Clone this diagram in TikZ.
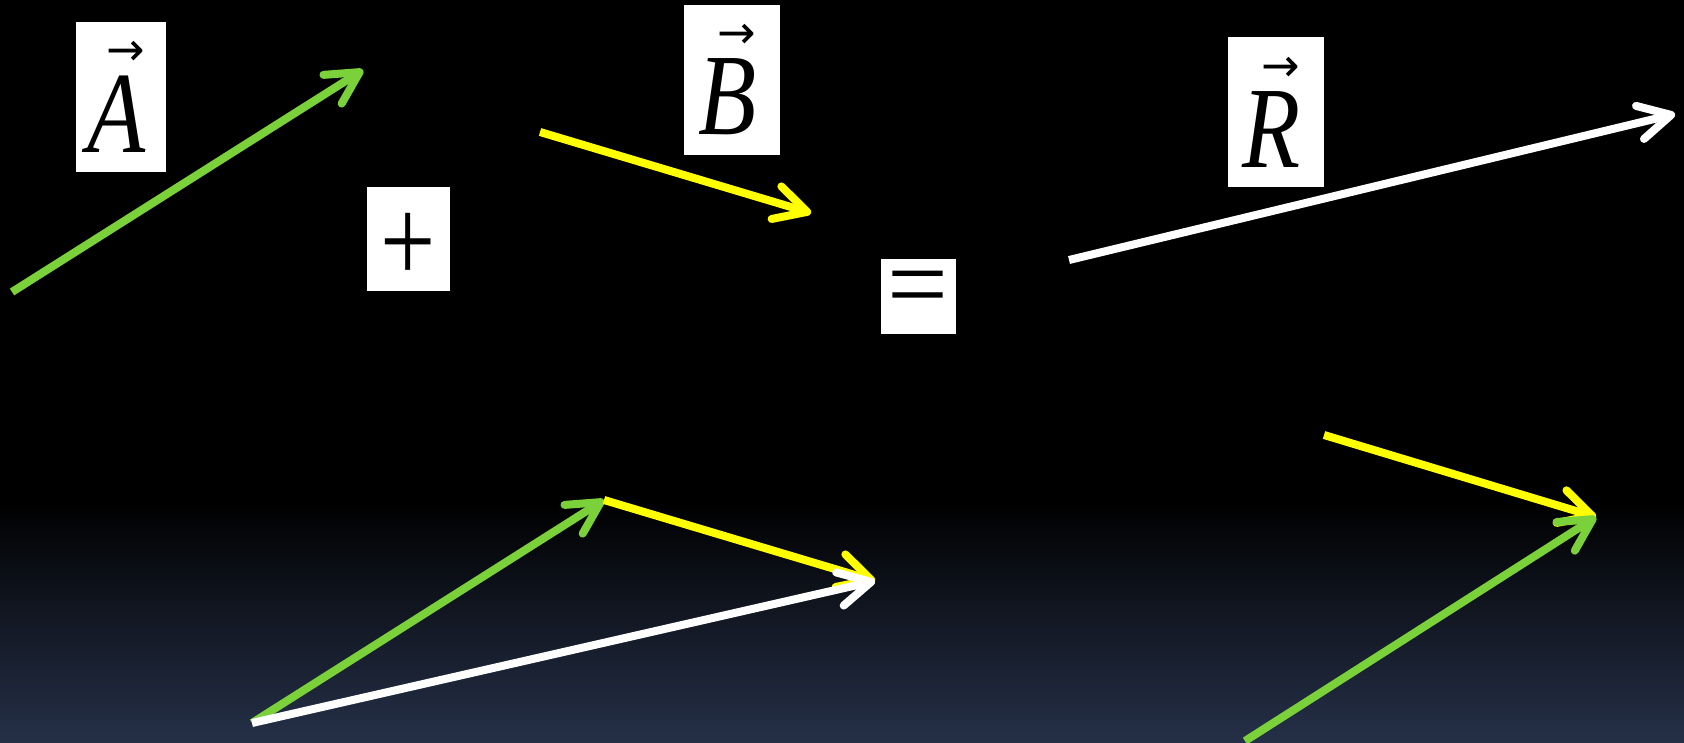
\documentclass[tikz,border=0pt]{standalone}
\usepackage{fontspec}
\usepackage{graphicx}
\setmainfont{Liberation Serif}
\newfontfamily\arrfont{DejaVu Sans}
\newfontfamily\letfont[FakeStretch=0.82]{Liberation Serif}
\usetikzlibrary{arrows.meta}
\definecolor{vgreen}{HTML}{7AD13A}
\definecolor{vyellow}{HTML}{FFFF00}
\definecolor{bgblue}{HTML}{253048}
\newcommand{\veclabel}[1]{\hspace*{4.5pt}{\arrfont\fontsize{23}{23}\selectfont →}\\[4pt]{\letfont\fontsize{58}{58}\selectfont\itshape #1}\hspace*{4pt}}

\begin{document}
\begin{tikzpicture}[x=0.5pt,y=-0.5pt,every node/.style={inner sep=0pt},
  symbox/.style={fill=white,text=black},
  vec/.style={line width=4pt,-{Straight Barb[round,length=16pt,width=17pt]}}]
\useasboundingbox (0,0) rectangle (1684,743);
\fill[black] (0,0) rectangle (1684,743);
\shade[top color=black,bottom color=bgblue] (0,500) rectangle (1684,743);
% labels
\node[symbox,align=center,minimum width=45pt,minimum height=75pt] (labA) at (121,97) {\veclabel{A}};
\node[symbox,align=center,minimum width=48pt,minimum height=75pt] (labB) at (732,80) {\veclabel{B}};
\node[symbox,align=center,minimum width=48pt,minimum height=75pt] (labR) at (1276,112) {\veclabel{R}};
\node[symbox,minimum width=41.5pt,minimum height=51.5pt,font=\fontsize{49}{49}\selectfont] (plus) at (408,239) {\raisebox{-4.3pt}[\height][0pt]{\scalebox{1}[1.25]{+}}};
\node[symbox,minimum width=37.5pt,minimum height=37.5pt,font=\fontsize{54}{54}\selectfont] (equals) at (918,296) {=};
% top row
\coordinate (a0) at (12,292);
\coordinate (a1) at (363,70);
\coordinate (b0) at (540,132);
\coordinate (b1) at (811,213);
\coordinate (r0) at (1069,260);
\coordinate (r1) at (1675,114);
\draw[vec,vgreen] (a0) -- (a1);
\draw[vec,vyellow] (b0) -- (b1);
\draw[vec,white] (r0) -- (r1);
% head to tail
\coordinate (o1) at (252,723);
\coordinate (p1) at (604,500);
\coordinate (q1) at (875,581);
\draw[vec,vgreen] (o1) -- (p1);
\draw[vec,vyellow] (p1) -- (q1);
\draw[vec,white] (o1) -- (q1);
% tip to tip
\coordinate (p2) at (1324,435);
\coordinate (o2) at (1245,741);
\coordinate (q2) at (1596,517);
\draw[vec,vyellow] (p2) -- (q2);
\draw[vec,vgreen] (o2) -- (q2);
\end{tikzpicture}
\end{document}
